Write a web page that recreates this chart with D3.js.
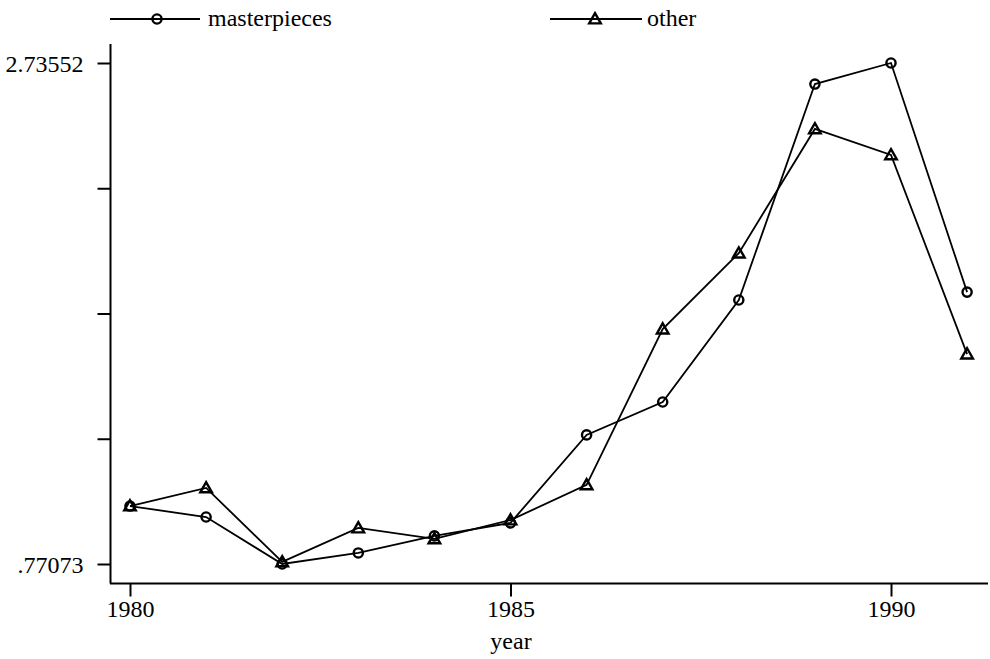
<!DOCTYPE html>
<html>
<head>
<meta charset="utf-8">
<script src="https://cdn.jsdelivr.net/npm/d3@7"></script>
<style>
body { margin: 0; background: #fff; }
svg text { font-family: "Liberation Serif", "Times New Roman", serif !important; font-size: 24px !important; fill: #000; }
</style>
</head>
<body>
<div id="chart"></div>
<script>
var years = [1980, 1981, 1982, 1983, 1984, 1985, 1986, 1987, 1988, 1989, 1990, 1991];
var masterpieces = [0.998, 0.955, 0.77073, 0.814, 0.881, 0.932, 1.277, 1.406, 1.806, 2.653, 2.73552, 1.837];
var other = [0.998, 1.069, 0.779, 0.912, 0.869, 0.943, 1.081, 1.692, 1.990, 2.477, 2.375, 1.594];
var yMin = 0.77073, yMax = 2.73552;
var xTicks = [1980, 1985, 1990];

var w = 990, h = 659;
var svg = d3.select("#chart").append("svg")
  .attr("width", w)
  .attr("height", h);

var x = d3.scaleLinear().domain([1980, 1990]).range([130, 891]);
var y = d3.scaleLinear().domain([yMin, yMax]).range([564, 63]);

// axes
var yTicks = d3.range(5).map(function(i) { return yMin + i * (yMax - yMin) / 4; });
var yAxis = d3.axisLeft(y)
  .tickValues(yTicks)
  .tickSize(13)
  .tickPadding(14)
  .tickFormat(function(d, i) {
    if (i == 0) return ".77073";
    if (i == 4) return "2.73552";
    return "";
  });
var gy = svg.append("g").attr("transform", "translate(110.5,0)").call(yAxis);
gy.select(".domain").remove();
svg.append("line").attr("x1", 110.5).attr("x2", 110.5).attr("y1", 44).attr("y2", 583.5)
  .attr("stroke", "#000").attr("stroke-width", 2);

var xAxis = d3.axisBottom(x).tickValues(xTicks).tickSize(13).tickFormat(d3.format("d"));
var gx = svg.append("g").attr("transform", "translate(0,583.5)").call(xAxis);
gx.select(".domain").remove();
svg.append("line").attr("x1", 110).attr("x2", 988).attr("y1", 583.5).attr("y2", 583.5)
  .attr("stroke", "#000").attr("stroke-width", 2);

svg.selectAll(".tick line").attr("stroke", "#000").attr("stroke-width", 2);
gy.selectAll(".tick text").attr("dy", "0.35em");
gx.selectAll(".tick text").attr("y", 33).attr("dy", null);

svg.append("text")
  .text("year")
  .attr("x", 511)
  .attr("y", 649)
  .attr("text-anchor", "middle");

// lines
var line = d3.line()
  .x(function(d, i) { return x(years[i]); })
  .y(function(d) { return y(d); });

function drawCircle(g, cx, cy) {
  g.append("circle").attr("cx", cx).attr("cy", cy).attr("r", 4.6)
    .attr("fill", "none").attr("stroke", "#000").attr("stroke-width", 2.4);
}
function drawTriangle(g, cx, cy) {
  var s = 5.8;
  g.append("path")
    .attr("d", "M" + cx + "," + (cy - s) + "L" + (cx + s) + "," + (cy + s * 0.75) + "L" + (cx - s) + "," + (cy + s * 0.75) + "Z")
    .attr("fill", "none").attr("stroke", "#000").attr("stroke-width", 2.4);
}

svg.append("path").datum(masterpieces).attr("d", line)
  .attr("fill", "none").attr("stroke", "#000").attr("stroke-width", 1.8);
svg.append("path").datum(other).attr("d", line)
  .attr("fill", "none").attr("stroke", "#000").attr("stroke-width", 1.8);

var marks = svg.append("g");
masterpieces.forEach(function(d, i) { drawCircle(marks, x(years[i]), y(d)); });
other.forEach(function(d, i) { drawTriangle(marks, x(years[i]), y(d)); });

// legend
var leg = svg.append("g");
leg.append("line").attr("x1", 110).attr("x2", 200).attr("y1", 19).attr("y2", 19)
  .attr("stroke", "#000").attr("stroke-width", 1.8);
drawCircle(leg, 157, 19);
leg.append("text").text("masterpieces").attr("x", 208).attr("y", 26);

leg.append("line").attr("x1", 550).attr("x2", 642).attr("y1", 19).attr("y2", 19)
  .attr("stroke", "#000").attr("stroke-width", 1.8);
drawTriangle(leg, 595, 19);
leg.append("text").text("other").attr("x", 647).attr("y", 26);
</script>
</body>
</html>
